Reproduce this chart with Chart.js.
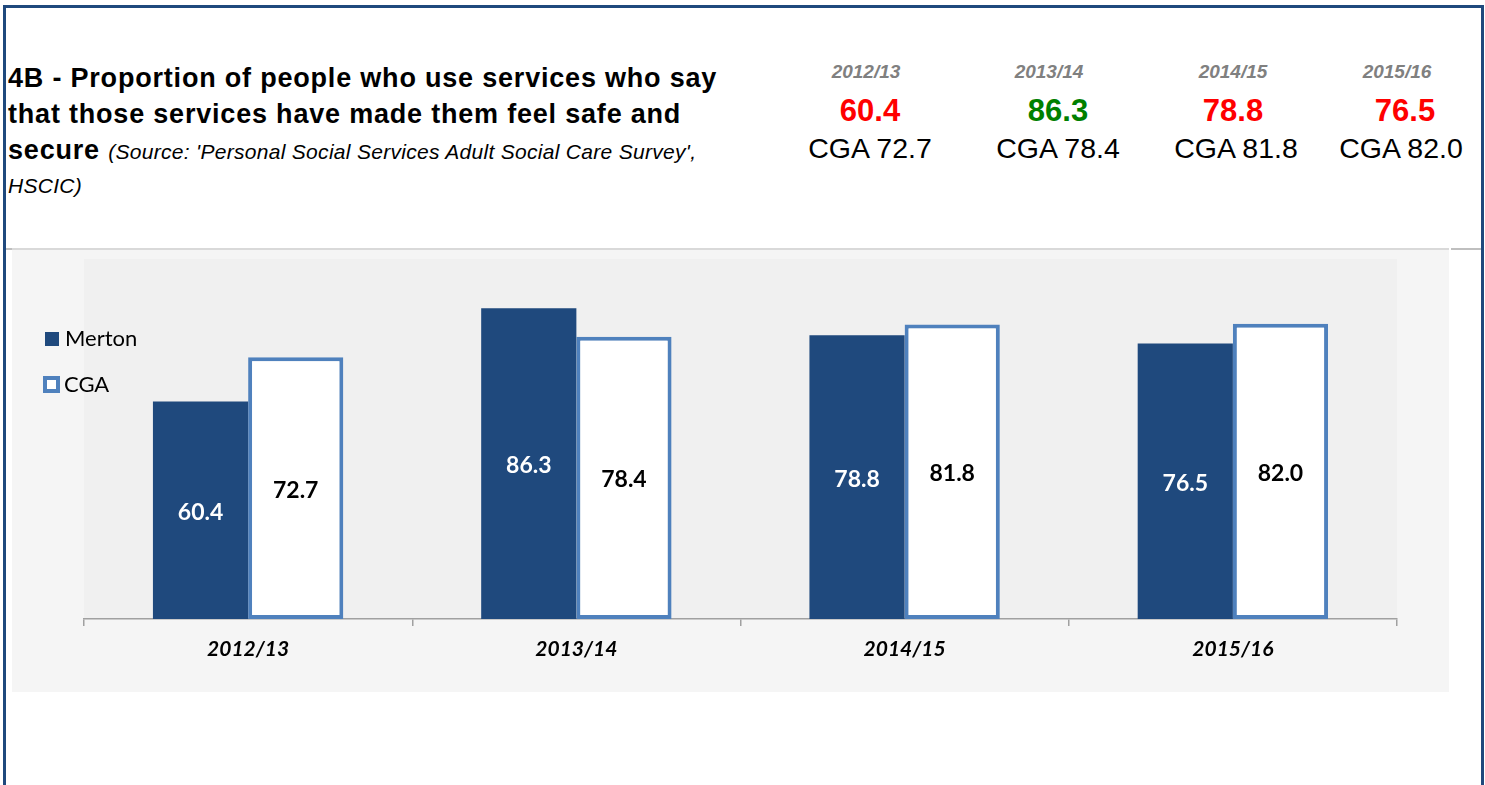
<!DOCTYPE html>
<html>
<head>
<meta charset="utf-8">
<script src="https://cdn.jsdelivr.net/npm/chart.js@4.4.1/dist/chart.umd.min.js"></script>
<style>
  body { margin: 0; background: #ffffff; width: 1485px; height: 785px; overflow: hidden; position: relative; font-family: "Liberation Sans", Arial, sans-serif; }
  .frame-top { position: absolute; left: 3px; top: 5px; width: 1481px; height: 3px; background: #1f497d; }
  .frame-left { position: absolute; left: 3px; top: 5px; width: 3px; height: 780px; background: #1f497d; }
  .frame-right { position: absolute; left: 1481px; top: 5px; width: 3px; height: 780px; background: #1f497d; }
  .sep { position: absolute; top: 248px; height: 2px; }
  .title { position: absolute; left: 8px; top: 60px; font-size: 27px; font-weight: bold; line-height: 36px; letter-spacing: 0.8px; color: #000; white-space: nowrap; }
  .src { font-size: 21px; font-weight: normal; font-style: italic; letter-spacing: 0.3px; }
  .src-line { position: absolute; left: 8px; top: 174px; line-height: 24px; white-space: nowrap; }
  .kpi { position: absolute; width: 180px; text-align: center; white-space: nowrap; }
  .yr { top: 62px; font-size: 19px; line-height: 19px; font-weight: bold; font-style: italic; color: #808080; }
  .val { top: 95px; font-size: 31px; line-height: 31px; font-weight: bold; }
  .cga { top: 134px; font-size: 28.5px; line-height: 28px; color: #000; }
  #chartBox { position: absolute; left: 12px; top: 250px; width: 1437px; height: 442px; background: #f5f5f5; }
</style>
</head>
<body>
<div class="frame-top"></div>
<div class="frame-left"></div>
<div class="frame-right"></div>
<div class="sep" style="left:6px;width:6px;background:#bfbfbf"></div>
<div class="sep" style="left:12px;width:1437px;background:#d9d9d9"></div>
<div class="sep" style="left:1451px;width:30px;background:#bfbfbf"></div>

<div class="title">4B - Proportion of people who use services who say<br>that those services have made them feel safe and<br>secure <span class="src">(Source: 'Personal Social Services Adult Social Care Survey',</span></div>
<div class="src src-line">HSCIC)</div>

<div id="kpis"></div>

<div id="chartBox"><canvas id="chart" width="1437" height="442"></canvas></div>

<script>
// chart data
const categories = ["2012/13", "2013/14", "2014/15", "2015/16"];
const mertonValues = [60.4, 86.3, 78.8, 76.5];
const cgaValues = [72.7, 78.4, 81.8, 82.0];

// where the headline figures sit (centre x of each text row)
const yearCenters = [866, 1049, 1233, 1397];
const valueCenters = [870, 1058, 1233, 1405];
const cgaCenters = [870, 1058, 1236, 1401];

const mertonColor = "#1f497d";
const cgaBorder = "#4f81bd";

// headline figures above the chart
const kpiBox = document.getElementById("kpis");
const addKpi = (cls, cx, text, color) => {
  const div = document.createElement("div");
  div.className = "kpi " + cls;
  div.style.left = (cx - 90) + "px";
  if (color) div.style.color = color;
  div.textContent = text;
  kpiBox.appendChild(div);
};
categories.forEach((cat, i) => {
  const good = mertonValues[i] >= cgaValues[i];
  addKpi("yr", yearCenters[i], cat);
  addKpi("val", valueCenters[i], mertonValues[i].toFixed(1), good ? "#008000" : "#ff0000");
  addKpi("cga", cgaCenters[i], "CGA " + cgaValues[i].toFixed(1));
});

const chartFont = "Lato, 'Open Sans', sans-serif";

// plot area background, value labels and the overlaid legend
const decorPlugin = {
  id: "decor",
  beforeDraw(chart) {
    const { ctx, chartArea } = chart;
    ctx.save();
    ctx.fillStyle = "#f0f0f0";
    ctx.fillRect(chartArea.left, chartArea.top, chartArea.right - chartArea.left, chartArea.bottom - chartArea.top);
    ctx.restore();
  },
  afterDatasetsDraw(chart) {
    const { ctx } = chart;
    ctx.save();
    ctx.font = "bold 23px " + chartFont;
    ctx.textAlign = "center";
    ctx.textBaseline = "middle";
    chart.data.datasets.forEach((ds, di) => {
      const meta = chart.getDatasetMeta(di);
      meta.data.forEach((bar, i) => {
        const midY = (bar.y + bar.base) / 2;
        ctx.fillStyle = di === 0 ? "#ffffff" : "#000000";
        ctx.fillText(ds.data[i].toFixed(1), bar.x, midY + 2);
      });
    });

    // legend
    ctx.font = "22px " + chartFont;
    ctx.textAlign = "left";
    ctx.fillStyle = mertonColor;
    ctx.fillRect(33, 82, 14, 14);
    ctx.fillStyle = "#000";
    ctx.fillText(chart.data.datasets[0].label, 53, 89);

    ctx.fillStyle = "#ffffff";
    ctx.fillRect(31, 126, 17, 17);
    ctx.strokeStyle = cgaBorder;
    ctx.lineWidth = 4;
    ctx.strokeRect(33, 128, 13, 13);
    ctx.fillStyle = "#000";
    ctx.fillText(chart.data.datasets[1].label, 52, 135);
    ctx.restore();
  }
};

new Chart(document.getElementById("chart"), {
  type: "bar",
  data: {
    labels: categories,
    datasets: [
      {
        label: "Merton",
        data: mertonValues,
        backgroundColor: mertonColor,
        borderWidth: 0,
      },
      {
        label: "CGA",
        data: cgaValues,
        backgroundColor: "#ffffff",
        borderColor: cgaBorder,
        borderWidth: 4,
        borderSkipped: false,
      },
    ],
  },
  options: {
    responsive: false,
    animation: false,
    devicePixelRatio: 1,
    layout: { padding: { left: 72, right: 52, top: 9, bottom: 0 } },
    datasets: { bar: { categoryPercentage: 0.58, barPercentage: 1 } },
    scales: {
      x: {
        grid: { drawOnChartArea: false, drawTicks: true, tickLength: 7, color: "#a0a0a0", lineWidth: 1.5 },
        border: { display: true, color: "#a0a0a0", width: 1.5 },
        ticks: { color: "#000", padding: 11, font: { family: chartFont, size: 21, weight: "bold", style: "italic" } },
        afterFit(scale) { scale.height = 73; },
      },
      y: { display: false, min: 0, max: 100 },
    },
    plugins: {
      legend: { display: false },
      tooltip: { enabled: false },
    },
  },
  plugins: [decorPlugin],
});
</script>
</body>
</html>
